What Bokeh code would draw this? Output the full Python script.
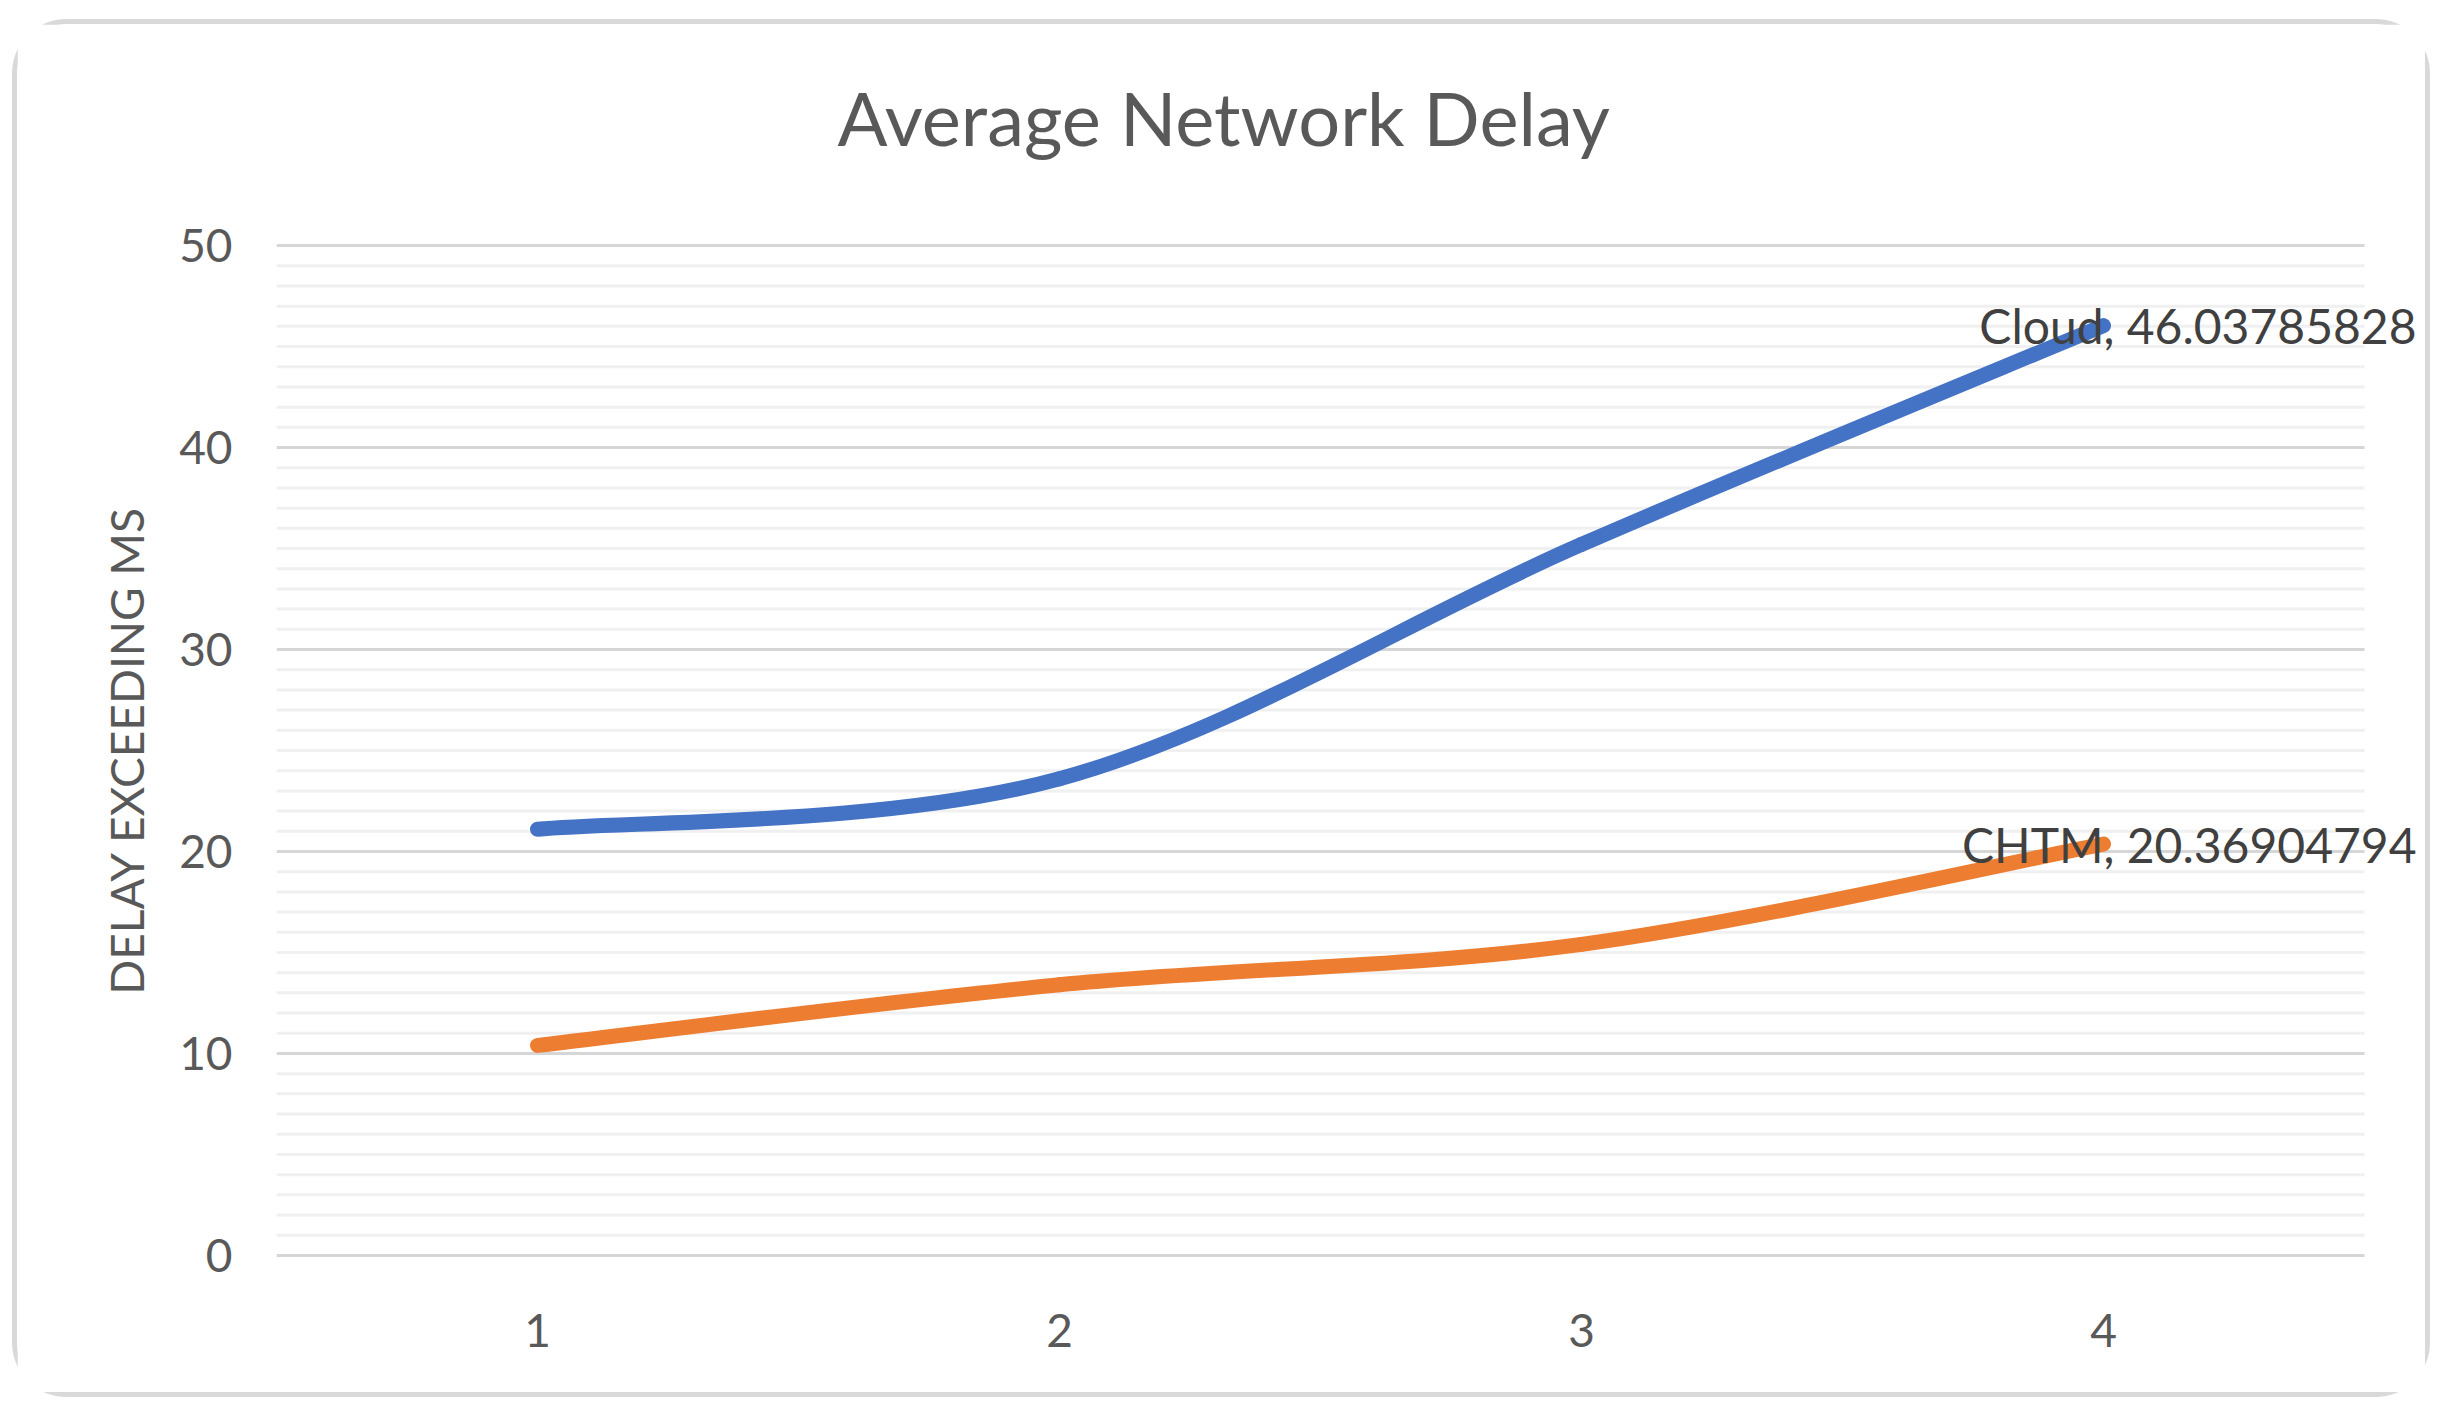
from bokeh.plotting import figure
from bokeh.models import FixedTicker, Range1d, Label, ColumnDataSource, Title
from bokeh.embed import file_html
from bokeh.resources import INLINE

# ---- data ----
categories = ["1", "2", "3", "4"]
x_pos = [1, 2, 3, 4]
cloud = [21.1, 23.6, 35.2, 46.03785828]
chtm = [10.4, 13.4, 15.4, 20.36904794]
series_names = ["Cloud", "CHTM"]
y_ticks = [0, 10, 20, 30, 40, 50]
y_minor = [v for v in range(0, 51) if v % 10]

BLUE = "#4472C4"
ORANGE = "#ED7D31"
TXT = "#595959"
FONT = "Lato"

# layout (pixels)
PX_X = 522.0           # pixels per category step
RIGHT_EXTRA = 71       # room right of the last category band for the data labels
x_lo = x_pos[0] - 0.5
x_hi = x_pos[-1] + 0.5

p = figure(width=2418, height=1378, output_backend="svg", toolbar_location=None,
           x_range=Range1d(x_lo, x_hi + RIGHT_EXTRA / PX_X),
           y_range=Range1d(y_ticks[0] - 0.3, y_ticks[-1] + 0.3),
           min_border_left=259, min_border_right=0, min_border_top=215,
           min_border_bottom=141)
p.margin = (19, 0, 0, 12)
p.styles = {"border": "5px solid #D9D9D9", "border-radius": "55px",
            "box-sizing": "border-box"}
p.background_fill_color = "white"
p.border_fill_color = "white"
p.outline_line_color = None

# spacer between the title and the plot area
p.add_layout(Title(text=" ", text_font_size="2px", standoff=39), "above")
p.title.text = "Average Network Delay"
p.title.align = "left"
p.title.offset = 561
p.title.text_font = FONT
p.title.text_font_style = "normal"
p.title.text_font_size = "74px"
p.title.text_color = TXT
p.title.standoff = 70

# axes
p.xaxis.ticker = FixedTicker(ticks=x_pos)
p.xaxis.major_label_overrides = {x: c for x, c in zip(x_pos, categories)}
p.yaxis.ticker = FixedTicker(ticks=y_ticks)
for ax in (p.xaxis[0], p.yaxis[0]):
    ax.axis_line_color = None
    ax.major_tick_line_color = None
    ax.minor_tick_line_color = None
    ax.major_label_text_font = FONT
    ax.major_label_text_font_size = "46px"
    ax.major_label_text_color = TXT
p.xaxis.major_label_standoff = 46
p.yaxis.major_label_standoff = 38
p.yaxis.axis_label = "DELAY EXCEEDING MS"
p.yaxis.axis_label_text_font = FONT
p.yaxis.axis_label_text_font_size = "46px"
p.yaxis.axis_label_text_font_style = "normal"
p.yaxis.axis_label_text_color = TXT
p.yaxis.axis_label_standoff = 22

p.xgrid.grid_line_color = None
p.ygrid.grid_line_color = None

# horizontal gridlines limited to the category band
p.segment(x0=[x_lo] * len(y_minor), x1=[x_hi] * len(y_minor), y0=y_minor, y1=y_minor,
          line_color="#F0F0F0", line_width=3)
p.segment(x0=[x_lo] * len(y_ticks), x1=[x_hi] * len(y_ticks), y0=y_ticks, y1=y_ticks,
          line_color="#D6D6D6", line_width=3)


def smooth_segments(xs, ys):
    # Excel-style smoothed line: cubic Bezier segments through the data points
    n = len(xs)
    segs = dict(x0=[], y0=[], x1=[], y1=[], cx0=[], cy0=[], cx1=[], cy1=[])
    for i in range(n - 1):
        p0 = (xs[max(i - 1, 0)], ys[max(i - 1, 0)])
        p1 = (xs[i], ys[i])
        p2 = (xs[i + 1], ys[i + 1])
        p3 = (xs[min(i + 2, n - 1)], ys[min(i + 2, n - 1)])
        segs["x0"].append(p1[0]); segs["y0"].append(p1[1])
        segs["x1"].append(p2[0]); segs["y1"].append(p2[1])
        segs["cx0"].append(p1[0] + (p2[0] - p0[0]) / 6)
        segs["cy0"].append(p1[1] + (p2[1] - p0[1]) / 6)
        segs["cx1"].append(p2[0] - (p3[0] - p1[0]) / 6)
        segs["cy1"].append(p2[1] - (p3[1] - p1[1]) / 6)
    return ColumnDataSource(segs)


for ys, col in ((cloud, BLUE), (chtm, ORANGE)):
    p.bezier(x0="x0", y0="y0", x1="x1", y1="y1", cx0="cx0", cy0="cy0",
             cx1="cx1", cy1="cy1", source=smooth_segments(x_pos, ys),
             line_color=col, line_width=15, line_cap="round")

for name, ys in zip(series_names, (cloud, chtm)):
    p.add_layout(Label(x=x_pos[-1], y=ys[-1], text=f"{name}, {ys[-1]}",
                       x_offset=313, text_align="right", text_baseline="middle",
                       text_font=FONT, text_font_size="48px",
                       text_color="#404040"))

open("out.html", "w").write(file_html(p, INLINE))
